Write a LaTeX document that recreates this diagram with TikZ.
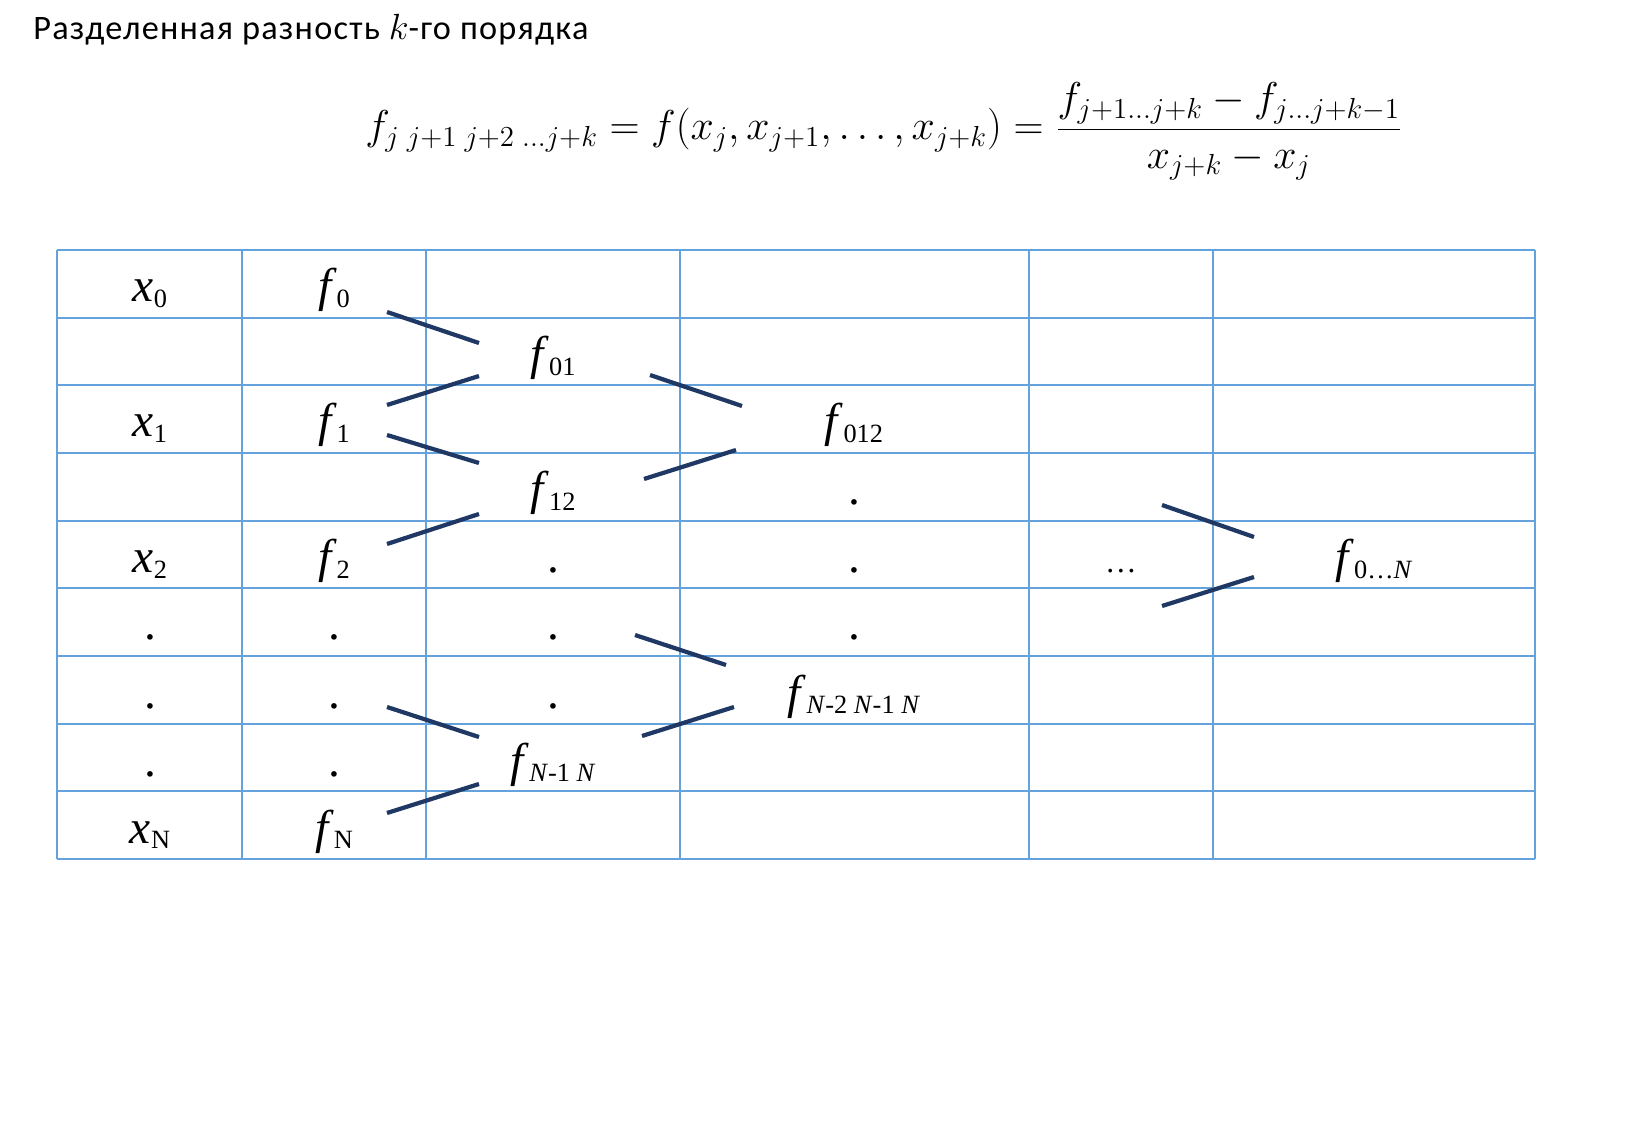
\documentclass[tikz,border=0pt]{standalone}
\usepackage{fontspec}
\setmainfont{Liberation Serif}
\newfontfamily\calibri[LetterSpace=3.6]{Carlito}
\definecolor{gridblue}{RGB}{100,162,220}
\definecolor{navy}{RGB}{31,56,100}
\newcommand\low[1]{\raisebox{-0.12cm}{\fontsize{15}{15}\selectfont\upshape #1}}

\begin{document}
\begin{tikzpicture}[x=0.02cm,y=-0.02cm,
  grid/.style={gridblue,line width=1.2pt},
  link/.style={navy,line width=2.4pt},
  cell/.style={inner sep=0pt,text height=0.84cm,text depth=0.12cm,font=\fontsize{27}{30}\selectfont}]
  \useasboundingbox (0,0) rectangle (1626,1128);
  \node[anchor=base west,inner sep=0pt,font=\calibri\fontsize{19.5}{23}\selectfont] (title) at (33,40)
    {Разделенная разность $k$-го порядка};
  \node[anchor=base west,inner sep=0pt,font=\fontsize{20.74}{25}\selectfont] (eq) at (365,140)
    {\scalebox{1.145}{$\displaystyle f_{j\;j+1\;j+2\;\ldots j+k}=f\bigl(x_j,x_{j+1},\ldots,x_{j+k}\bigr)
      =\frac{f_{j+1\ldots j+k}-f_{j\ldots j+k-1}}{x_{j+k}-x_j}$}};
  \foreach \i in {0,...,9}
    \draw[grid] (57,{250+67.67*\i}) -- (1535,{250+67.67*\i});
  \foreach \x in {57,242,426,680,1029,1213,1535}
    \draw[grid] (\x,250) -- (\x,859);
  \node[cell] (x0) at (150,284) {\textit{x}\low{0}};
  \node[cell] (f0) at (334,284) {\textit{f}\low{0}};
  \node[cell] (f01) at (553,352) {\textit{f}\low{01}};
  \node[cell] (x1) at (150,419) {\textit{x}\low{1}};
  \node[cell] (f1) at (334,419) {\textit{f}\low{1}};
  \node[cell] (f012) at (854,419) {\textit{f}\low{012}};
  \node[cell] (f12) at (553,487) {\textit{f}\low{12}};
  \node[cell] (h3) at (854,487) {.};
  \node[cell] (x2) at (150,555) {\textit{x}\low{2}};
  \node[cell] (f2) at (334,555) {\textit{f}\low{2}};
  \node[cell] (g4) at (553,555) {.};
  \node[cell] (h4) at (854,555) {.};
  \node[cell,font=\fontsize{18}{18}\selectfont] (dd) at (1121,555) {…};
  \node[cell] (f0N) at (1374,555) {\textit{f}\low{0…\textit{N}}};
  \foreach \r/\y in {5/622,6/690,7/758} {
    \node[cell] (xd\r) at (150,\y) {.};
    \node[cell] (fd\r) at (334,\y) {.};
  }
  \node[cell] (g5) at (553,622) {.};
  \node[cell] (h5) at (854,622) {.};
  \node[cell] (g6) at (553,690) {.};
  \node[cell] (fN2N) at (854,690) {\textit{f}\low{\textit{N}-2 \textit{N}-1 \textit{N}}};
  \node[cell] (fN1N) at (553,758) {\textit{f}\low{\textit{N}-1 \textit{N}}};
  \node[cell] (xN) at (150,825) {\textit{x}\low{N}};
  \node[cell] (fN) at (334,825) {\textit{f}\low{N}};
  \coordinate (u3) at (1121,487);
  \coordinate (u5) at (1121,622);
  \foreach \a/\ax/\ay/\b/\bx/\by in {
      f0/53/28/f01/-74/-9, f1/53/-14/f01/-74/24,
      f1/53/16/f12/-74/-24, f2/53/-11/f12/-74/27,
      fd6/53/17/fN1N/-74/-21, fN/53/-12/fN1N/-74/26,
      f01/97/23/f012/-112/-13, f12/91/-8/f012/-118/31,
      g5/82/13/fN2N/-128/-25, fN1N/89/-22/fN2N/-120/17,
      u3/41/18/f0N/-120/-18, u5/41/-16/f0N/-120/22}
    \draw[link] ([shift={(\ax,\ay)}]\a.center) -- ([shift={(\bx,\by)}]\b.center);
\end{tikzpicture}
\end{document}
